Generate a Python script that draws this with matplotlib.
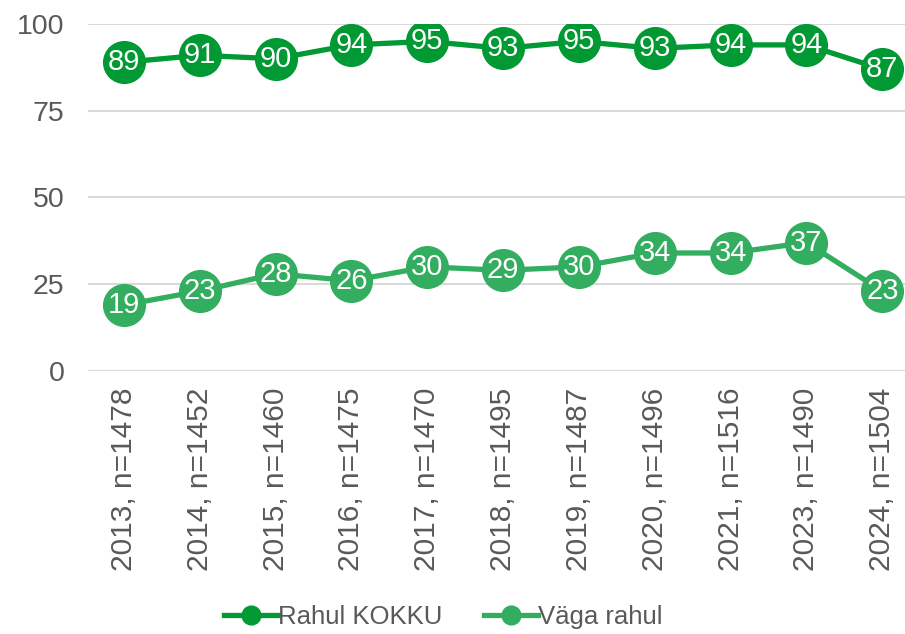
import matplotlib.pyplot as plt

plt.rcParams['font.family'] = ['Liberation Sans', 'DejaVu Sans']

categories = ["2013, n=1478", "2014, n=1452", "2015, n=1460", "2016, n=1475",
              "2017, n=1470", "2018, n=1495", "2019, n=1487", "2020, n=1496",
              "2021, n=1516", "2023, n=1490", "2024, n=1504"]
rahul_kokku = [89, 91, 90, 94, 95, 93, 95, 93, 94, 94, 87]
vaga_rahul = [19, 23, 28, 26, 30, 29, 30, 34, 34, 37, 23]

DARK = "#009933"
LIGHT = "#33AD5F"
GRAY = "#595959"

fig = plt.figure(figsize=(9.05, 6.34), dpi=100)
ax = fig.add_axes([0.0972, 0.415, 0.9028, 0.547])

x = list(range(len(categories)))
for vals, col, name in [(rahul_kokku, DARK, "Rahul KOKKU"), (vaga_rahul, LIGHT, "Väga rahul")]:
    ax.plot(x, vals, color=col, lw=3.8, marker="o", ms=30, label=name, zorder=3)
    for xi, v in zip(x, vals):
        ax.text(xi, v, str(v), color="white", ha="center", va="center",
                fontsize=21, zorder=4)

ax.set_xlim(-0.475, 10.3)
ax.set_ylim(0, 100)
ax.set_yticks([0, 25, 50, 75, 100])
ax.set_xticks(x)
ax.set_xticklabels(categories, rotation=90)
ax.tick_params(axis="y", labelsize=20.5, colors=GRAY, length=0, pad=17)
ax.tick_params(axis="x", labelsize=21.5, colors=GRAY, length=0, pad=12)
ax.grid(axis="y", color="#d9d9d9", lw=1.5)
ax.set_axisbelow(True)
for s in ax.spines.values():
    s.set_visible(False)

leg = fig.legend(loc="center", bbox_to_anchor=(0.49, 0.027), ncol=2, frameon=False,
                 fontsize=18.5, markerscale=0.45, handlelength=2.1, handletextpad=0.0,
                 columnspacing=1.6, labelcolor=GRAY)

fig.savefig("out.png", dpi=100)
